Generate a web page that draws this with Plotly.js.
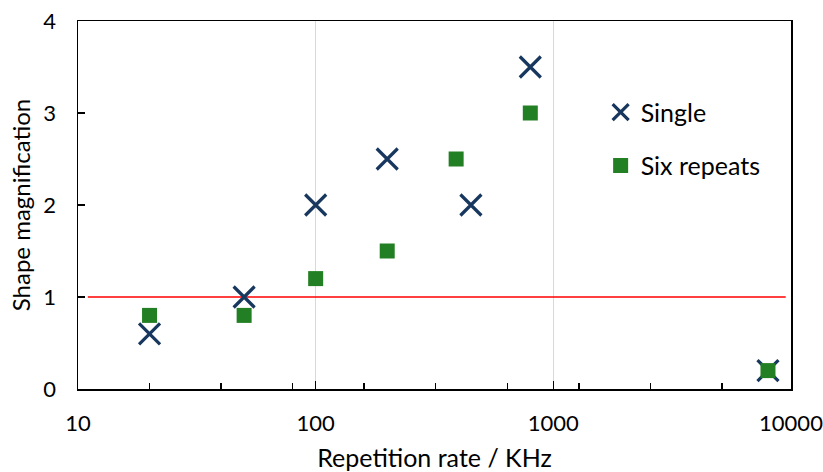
<!DOCTYPE html>
<html>
<head>
<meta charset="utf-8">
<script src="https://cdn.plot.ly/plotly-3.0.1.min.js"></script>
<style>html,body{margin:0;padding:0;background:#fff;}#chart{width:823px;height:472px;}</style>
</head>
<body>
<div id="chart"></div>
<script>
// Data
const repRate = [20, 50, 100, 200, 450, 800, 8000];          // KHz
const singleMag = [0.6, 1.0, 2.0, 2.5, 2.0, 3.5, 0.2];
const repRateSix = [20, 50, 100, 200, 390, 800, 8000];
const sixRepeatsMag = [0.8, 0.8, 1.2, 1.5, 2.5, 3.0, 0.2];
const refLineX = [11, 9500];
const refLineY = [1, 1];
const majorTickVals = [10, 100, 1000, 10000];
const majorTickText = ['10', '100', '1000', '10000'];
const minorTickVals = [20, 40, 80, 160, 320, 640, 1280, 2560, 5120];
const yTickVals = [0, 1, 2, 3, 4];

const FONT = 'Lato, "Open Sans", sans-serif';

const traces = [
  {x: refLineX, y: refLineY, mode: 'lines', line: {color: '#FF0000', width: 1.6},
   showlegend: false, hoverinfo: 'skip'},
  {x: repRate, y: singleMag, mode: 'markers', name: 'Single', legendgroup: 'a',
   marker: {symbol: 'x-thin', size: 21, line: {color: '#17375E', width: 3.2}, color: '#17375E'}},
  {x: repRateSix, y: sixRepeatsMag, mode: 'markers', name: 'Six repeats', legendgroup: 'b',
   marker: {symbol: 'square', size: 15, color: '#237F23', line: {width: 0}}},
  {x: minorTickVals, y: minorTickVals.map(() => null), xaxis: 'x2', mode: 'markers',
   showlegend: false, hoverinfo: 'skip'}
];

const layout = {
  width: 823, height: 472,
  margin: {l: 78, r: 32, t: 21, b: 83},
  paper_bgcolor: '#fff', plot_bgcolor: '#fff',
  font: {family: FONT, color: '#000', size: 22},
  showlegend: true,
  legend: {x: 0.733, y: 0.68, xanchor: 'left', yanchor: 'middle', bgcolor: 'rgba(0,0,0,0)',
           font: {family: FONT, size: 25, color: '#000'}, traceorder: 'grouped', tracegroupgap: 18},
  xaxis: {
    type: 'log', range: [1, 4], tickmode: 'array', tickvals: majorTickVals, ticktext: majorTickText,
    ticks: 'inside', ticklen: 8, tickwidth: 1.5, tickcolor: '#000',
    showline: true, linecolor: '#000', linewidth: 1.5, mirror: true,
    showgrid: true, gridcolor: '#D9D9D9', gridwidth: 1.5, zeroline: false,
    tickfont: {family: FONT, size: 22}, ticklabelstandoff: 14, ticklabeloverflow: 'allow',
    title: {text: 'Repetition rate / KHz', font: {family: FONT, size: 25}, standoff: 14}
  },
  xaxis2: {
    type: 'log', range: [1, 4], overlaying: 'x', matches: 'x', tickmode: 'array', tickvals: minorTickVals,
    ticks: 'inside', ticklen: 6, tickwidth: 1.5, tickcolor: '#000', showticklabels: false,
    showline: false, showgrid: false, zeroline: false, side: 'bottom'
  },
  yaxis: {
    range: [0, 4], tickmode: 'array', tickvals: yTickVals,
    ticks: 'inside', ticklen: 7, tickwidth: 1.5, tickcolor: '#000',
    showline: true, linecolor: '#000', linewidth: 1.5, mirror: true,
    showgrid: false, zeroline: false,
    tickfont: {family: FONT, size: 22}, ticklabelstandoff: 16, ticklabeloverflow: 'allow',
    title: {text: 'Shape magnification', font: {family: FONT, size: 24}, standoff: 6}
  }
};

Plotly.newPlot('chart', traces, layout, {displayModeBar: false, staticPlot: true});
</script>
</body>
</html>
